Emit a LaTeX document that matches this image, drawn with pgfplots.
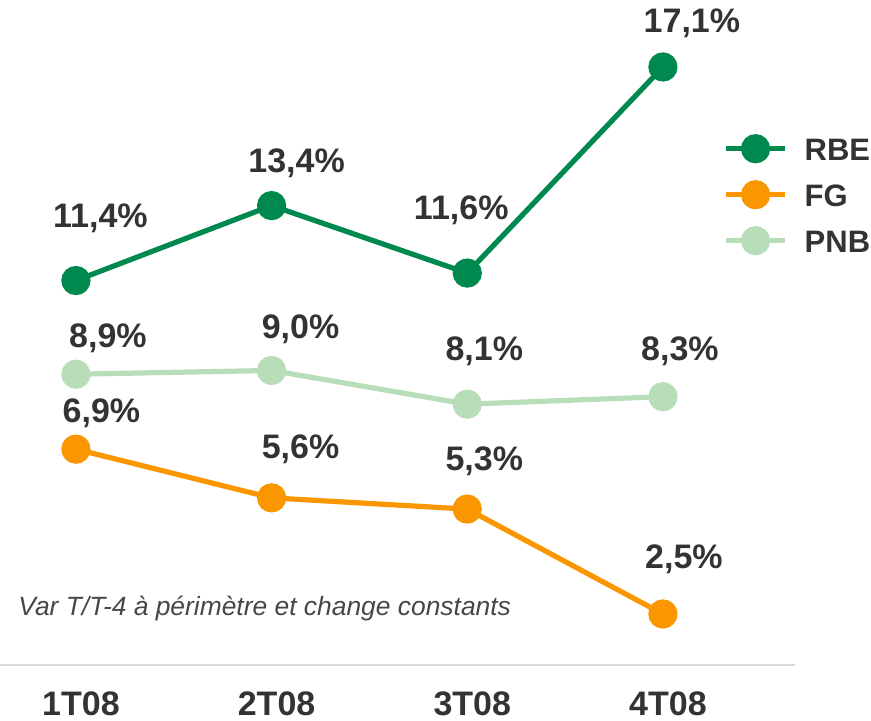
\documentclass[border=0pt]{standalone}
\usepackage{pgfplots}
\pgfplotsset{compat=1.18}
\usepackage{fontspec}
\setmainfont{Liberation Sans}
\definecolor{rbe}{RGB}{0,137,79}
\definecolor{fg}{RGB}{250,150,0}
\definecolor{pnb}{RGB}{183,222,185}
\definecolor{txt}{RGB}{51,51,51}
\definecolor{axl}{RGB}{217,217,217}
\begin{document}
\begin{tikzpicture}
\begin{axis}[
  at={(0pt,28pt)}, anchor=south west,
  scale only axis, width=397.5pt, height=332.5pt,
  xmin=-0.388, xmax=3.675, ymin=1.139, ymax=18.888,
  clip=false,
  axis x line*=bottom, hide y axis,
  x axis line style={-, draw=axl, line width=1pt},
  xtick={0,1,2,3},
  xticklabels={1T08,2T08,3T08,4T08},
  major tick length=0pt,
  xticklabel style={anchor=base, yshift=-25pt, xshift=2.5pt, text=txt, font=\fontsize{17}{19}\selectfont\bfseries},
  every axis plot/.append style={line width=2.6pt, mark=*, mark size=6pt},
  legend style={at={(0.902,0.801)}, anchor=north west, draw=none, fill=none,
     font=\fontsize{15.5}{18}\selectfont\bfseries, text=txt, row sep=11pt,
     nodes={inner sep=0pt, text height=11.5pt, text depth=0pt},
     /tikz/every odd column/.append style={column sep=8.5pt}},
  legend cell align=left,
  legend image code/.code={\draw[mark repeat=2,mark phase=2,#1] plot coordinates {(0pt,0.25pt)(14.75pt,0.25pt)(29.5pt,0.25pt)};},
]
\addplot[color=rbe, mark options={fill=rbe, draw=rbe}] coordinates {(0,11.4)(1,13.4)(2,11.6)(3,17.1)};
\addlegendentry{RBE}
\addplot[color=fg, mark options={fill=fg, draw=fg}] coordinates {(0,6.9)(1,5.6)(2,5.3)(3,2.5)};
\addlegendentry{FG}
\addplot[color=pnb, mark options={fill=pnb, draw=pnb}] coordinates {(0,8.9)(1,9.0)(2,8.1)(3,8.3)};
\addlegendentry{PNB}
% data labels
\begin{scope}[every node/.style={anchor=base, text=txt, font=\fontsize{17}{19}\selectfont\bfseries, inner sep=0pt}]
\node[xshift=12.25pt, yshift=26.5pt] at (axis cs:0,11.4) {11,4\%};
\node[xshift=12.5pt, yshift=16.5pt] at (axis cs:1,13.4) {13,4\%};
\node[xshift=-3pt, yshift=27pt] at (axis cs:2,11.6) {11,6\%};
\node[xshift=14.5pt, yshift=17pt] at (axis cs:3,17.1) {17,1\%};
\node[xshift=16pt, yshift=13.5pt] at (axis cs:0,8.9) {8,9\%};
\node[xshift=14.5pt, yshift=16pt] at (axis cs:1,9.0) {9,0\%};
\node[xshift=8.5pt, yshift=22pt] at (axis cs:2,8.1) {8,1\%};
\node[xshift=8.5pt, yshift=18pt] at (axis cs:3,8.3) {8,3\%};
\node[xshift=12.75pt, yshift=13.5pt] at (axis cs:0,6.9) {6,9\%};
\node[xshift=14.5pt, yshift=19.5pt] at (axis cs:1,5.6) {5,6\%};
\node[xshift=8.5pt, yshift=19.5pt] at (axis cs:2,5.3) {5,3\%};
\node[xshift=10.5pt, yshift=23pt] at (axis cs:3,2.5) {2,5\%};
\end{scope}
\end{axis}
\node[anchor=base west, inner sep=0pt, text=txt!90!white, font=\fontsize{13.2}{15}\selectfont\itshape] at (9pt,52.5pt) {Var T/T-4 à périmètre et change constants};
\pgfresetboundingbox
\path[use as bounding box] (0,0) rectangle (435.5pt,360.5pt);
\end{tikzpicture}
\end{document}
